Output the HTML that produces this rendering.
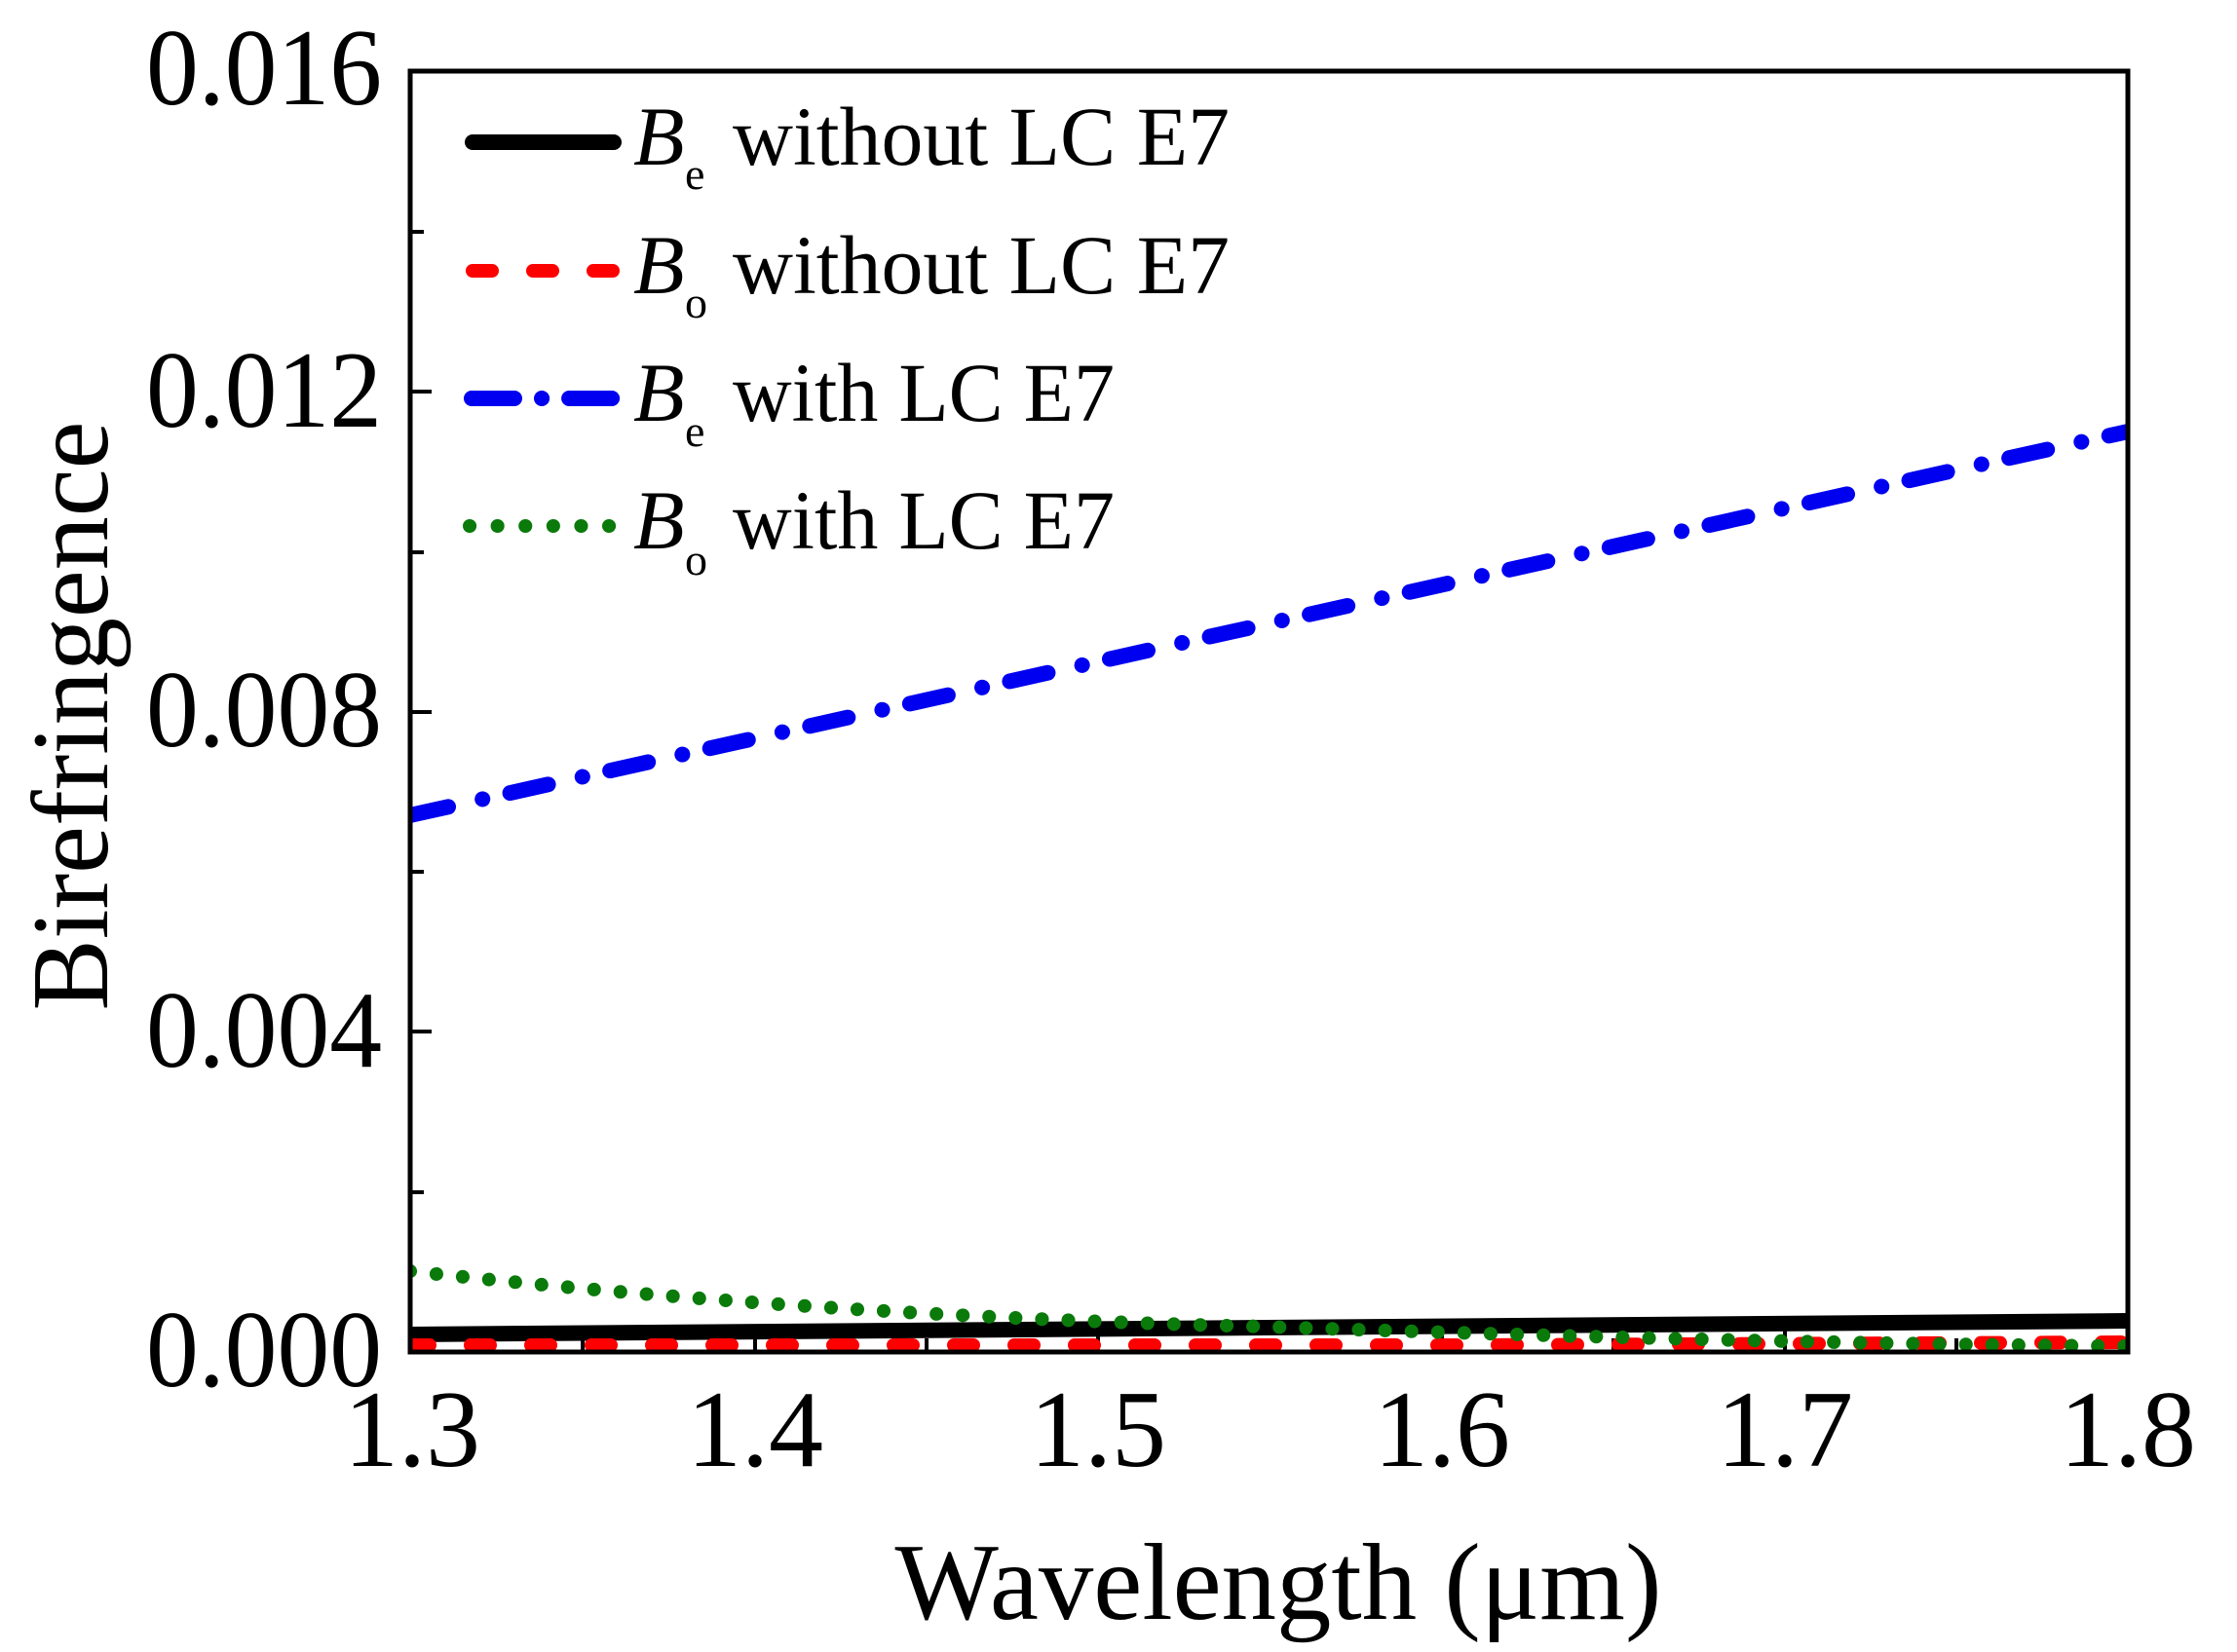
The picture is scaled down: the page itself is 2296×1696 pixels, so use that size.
<!DOCTYPE html>
<html><head><meta charset="utf-8"><style>
html,body{margin:0;padding:0;background:#fff}
svg{display:block}
text{font-family:"Liberation Serif",serif;fill:#000}
</style></head><body>
<svg width="2296" height="1696" viewBox="0 0 2296 1696" xmlns="http://www.w3.org/2000/svg">
<rect width="2296" height="1696" fill="#fff"/>
<g stroke="#000" stroke-width="4">
<line x1="421" y1="1388" x2="443" y2="1388"/>
<line x1="421" y1="1059" x2="443" y2="1059"/>
<line x1="421" y1="731" x2="443" y2="731"/>
<line x1="421" y1="402" x2="443" y2="402"/>
<line x1="421" y1="1224" x2="435" y2="1224"/>
<line x1="421" y1="895" x2="435" y2="895"/>
<line x1="421" y1="567" x2="435" y2="567"/>
<line x1="421" y1="238" x2="435" y2="238"/>
<line x1="775" y1="1388" x2="775" y2="1366"/>
<line x1="1127" y1="1388" x2="1127" y2="1366"/>
<line x1="1480" y1="1388" x2="1480" y2="1366"/>
<line x1="1832" y1="1388" x2="1832" y2="1366"/>
<line x1="598" y1="1388" x2="598" y2="1374"/>
<line x1="951" y1="1388" x2="951" y2="1374"/>
<line x1="1303" y1="1388" x2="1303" y2="1374"/>
<line x1="1656" y1="1388" x2="1656" y2="1374"/>
<line x1="2008" y1="1388" x2="2008" y2="1374"/>
</g>
<defs><clipPath id="c"><rect x="421" y="73" width="1763" height="1315"/></clipPath></defs>
<g clip-path="url(#c)" fill="none" stroke-linecap="round">
<path d="M421 1370 L1300 1363 L2184 1356" stroke="#000" stroke-width="16" stroke-linecap="butt"/>
<path d="M421 1381 L1500 1381 L2184 1378" stroke="#f00" stroke-width="14" stroke-dasharray="20 42"/>
<path d="M421 1305 C700 1336 1000 1355 1300 1362 C1600 1372 1900 1380 2184 1382" stroke="#0a7a0a" stroke-width="14" stroke-dasharray="0.1 27"/>
<path d="M421 837 L2184 443" stroke="#0000f0" stroke-width="16" stroke-dasharray="40 36 0.1 29"/>
</g>
<rect x="421" y="73" width="1763" height="1315" fill="none" stroke="#000" stroke-width="5"/>
<g fill="none" stroke-linecap="round">
<line x1="485" y1="146" x2="630" y2="146" stroke="#000" stroke-width="16"/>
<line x1="485" y1="278" x2="630" y2="278" stroke="#f00" stroke-width="14" stroke-dasharray="20 42"/>
<path d="M484 409 L638 409" stroke="#0000f0" stroke-width="16" stroke-dasharray="44 28 0.1 28 44 100"/>
<line x1="482" y1="540" x2="630" y2="540" stroke="#0a7a0a" stroke-width="14" stroke-dasharray="0.1 28.5"/>
</g>
<g font-size="86">
<text x="650" y="169"><tspan font-style="italic">B</tspan></text><text x="703" y="194" font-size="46">e</text><text x="752" y="169" textLength="510" lengthAdjust="spacingAndGlyphs">without LC E7</text>
<text x="650" y="301"><tspan font-style="italic">B</tspan></text><text x="703" y="326" font-size="46">o</text><text x="752" y="301" textLength="510" lengthAdjust="spacingAndGlyphs">without LC E7</text>
<text x="650" y="432"><tspan font-style="italic">B</tspan></text><text x="703" y="458" font-size="46">e</text><text x="752" y="432" textLength="392" lengthAdjust="spacingAndGlyphs">with LC E7</text>
<text x="650" y="563"><tspan font-style="italic">B</tspan></text><text x="703" y="590" font-size="46">o</text><text x="752" y="563" textLength="392" lengthAdjust="spacingAndGlyphs">with LC E7</text>
</g>
<g font-size="112" text-anchor="end">
<text x="392" y="107" textLength="242" lengthAdjust="spacingAndGlyphs">0.016</text>
<text x="392" y="438" textLength="242" lengthAdjust="spacingAndGlyphs">0.012</text>
<text x="392" y="766" textLength="242" lengthAdjust="spacingAndGlyphs">0.008</text>
<text x="392" y="1095" textLength="242" lengthAdjust="spacingAndGlyphs">0.004</text>
<text x="392" y="1423" textLength="242" lengthAdjust="spacingAndGlyphs">0.000</text>
</g>
<g font-size="112" text-anchor="middle">
<text x="423" y="1505">1.3</text>
<text x="775" y="1505">1.4</text>
<text x="1127" y="1505">1.5</text>
<text x="1480" y="1505">1.6</text>
<text x="1832" y="1505">1.7</text>
<text x="2184" y="1505">1.8</text>
</g>
<text x="1312" y="1662" font-size="112" text-anchor="middle" textLength="787" lengthAdjust="spacingAndGlyphs">Wavelength (μm)</text>
<text transform="translate(110,735) rotate(-90)" font-size="112" text-anchor="middle" textLength="605" lengthAdjust="spacingAndGlyphs">Birefringence</text>
</svg>
</body></html>
